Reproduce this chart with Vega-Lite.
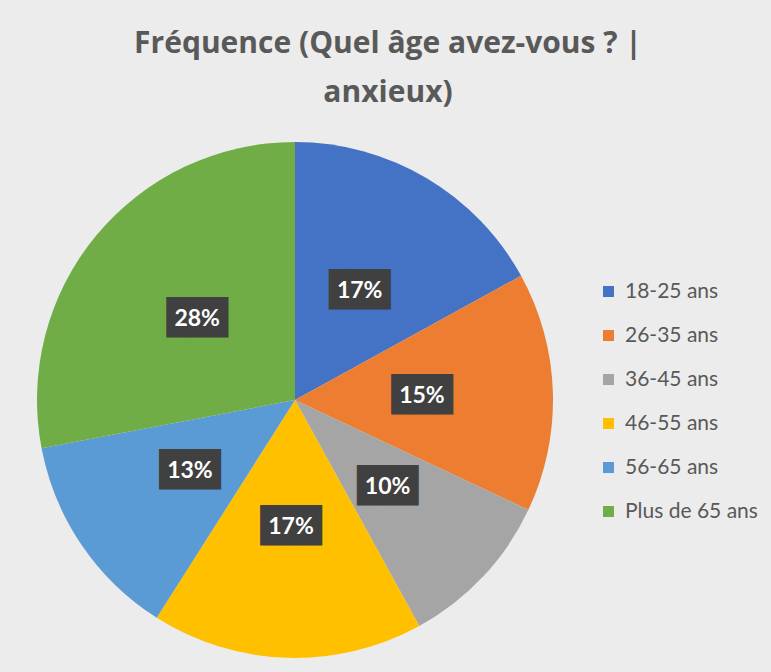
{
  "$schema": "https://vega.github.io/schema/vega-lite/v6.json",
  "width": 516,
  "height": 516,
  "autosize": {"type": "none"},
  "padding": {"left": 37, "top": 142, "right": 218, "bottom": 14},
  "background": "#ececec",
  "view": {"stroke": null},
  "title": {
    "text": ["Fréquence (Quel âge avez-vous ? |", "anxieux)"],
    "font": "Open Sans",
    "fontSize": 30,
    "fontWeight": "bold",
    "color": "#595959",
    "lineHeight": 49,
    "anchor": "middle",
    "dx": 93,
    "offset": 34
  },
  "data": {
    "values": [
      {"rang": 1, "age": "18-25 ans", "pct": 17},
      {"rang": 2, "age": "26-35 ans", "pct": 15},
      {"rang": 3, "age": "36-45 ans", "pct": 10},
      {"rang": 4, "age": "46-55 ans", "pct": 17},
      {"rang": 5, "age": "56-65 ans", "pct": 13},
      {"rang": 6, "age": "Plus de 65 ans", "pct": 28}
    ]
  },
  "encoding": {
    "theta": {"field": "pct", "type": "quantitative", "stack": true},
    "order": {"field": "rang", "type": "quantitative"}
  },
  "layer": [
    {
      "mark": {"type": "arc", "outerRadius": 258},
      "encoding": {
        "color": {
          "field": "age",
          "type": "nominal",
          "scale": {
            "domain": ["18-25 ans", "26-35 ans", "36-45 ans", "46-55 ans", "56-65 ans", "Plus de 65 ans"],
            "range": ["#4472C4", "#ED7D31", "#A5A5A5", "#FFC000", "#5B9BD5", "#70AD47"]
          },
          "legend": {
            "title": null,
            "orient": "none",
            "legendX": 561,
            "legendY": 139,
            "symbolType": "square",
            "symbolSize": 121,
            "symbolStrokeWidth": 0,
            "labelFont": "Lato",
            "labelFontSize": 21,
            "labelColor": "#595959",
            "labelOffset": 6,
            "rowPadding": 22
          }
        }
      }
    },
    {
      "mark": {"type": "text", "radius": 127, "font": "DejaVu Sans Mono", "fontSize": 34, "fill": "#404040", "baseline": "middle", "align": "center"},
      "encoding": {"text": {"value": "███"}}
    },
    {
      "mark": {"type": "text", "radius": 127, "font": "Lato", "fontSize": 23, "fontWeight": "bold", "fill": "#ffffff", "baseline": "middle", "align": "center"},
      "encoding": {"text": {"field": "label", "type": "nominal"}}
    }
  ],
  "transform": [
    {"calculate": "datum.pct + '%'", "as": "label"}
  ]
}
